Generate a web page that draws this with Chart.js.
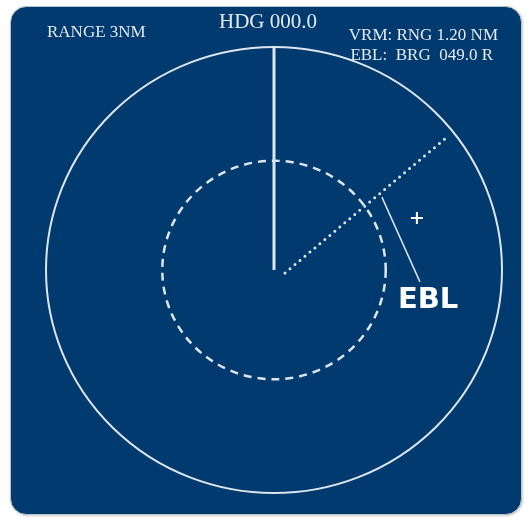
<!DOCTYPE html>
<html>
<head>
<meta charset="utf-8">
<script src="https://cdn.jsdelivr.net/npm/chart.js@4/dist/chart.umd.min.js"></script>
<style>
  html, body { margin: 0; padding: 0; background: #ffffff; }
  #radar { display: block; }
</style>
</head>
<body>
<canvas id="radar" width="530" height="518"></canvas>
<script>
// values, in nautical miles (x east, y north)
const rangeRings = [3.0];          // outer display ring
const vrmRings = [1.47];           // variable range marker (dashed)
const headingLine = [[0, 0], [0, 3.0]];
const eblLine = [[0.145, -0.04], [2.28, 1.79]];
const leaderLine = [[1.42, 0.98], [1.92, -0.16]];
const targets = [[1.88, 0.70]];
const headerLabels = ['RANGE 3NM', 'HDG 000.0', 'VRM: RNG 1.20 NM', 'EBL:  BRG  049.0 R'];
const eblLabel = 'EBL';
const eblLabelPos = [1.63, -0.51];

const PANEL = '#013a6f';
const INK = '#dde5ee';

// own ship sits here on the canvas, and this many px per NM
const ORIGIN = { x: 274, y: 270 };
const SCALE = { x: 76, y: 74.33 };

const toPts = arr => arr.map(p => ({ x: p[0], y: p[1] }));

// fit the hidden axes so own ship lands on ORIGIN
const fitPlugin = {
    id: 'fit',
    afterLayout(chart) {
        const xs = chart.scales.x, ys = chart.scales.y;
        xs.min = (xs.left - ORIGIN.x) / SCALE.x;
        xs.max = (xs.right - ORIGIN.x) / SCALE.x;
        ys.min = (ORIGIN.y - ys.bottom) / SCALE.y;
        ys.max = (ORIGIN.y - ys.top) / SCALE.y;
        xs.configure();
        ys.configure();
    }
};

// Panel background
const panelPlugin = {
    id: 'panel',
    beforeDraw(chart) {
        const ctx = chart.ctx;
        ctx.save();
        ctx.shadowColor = 'rgba(0,0,0,0.25)';
        ctx.shadowBlur = 3;
        ctx.shadowOffsetX = 1;
        ctx.shadowOffsetY = 1;
        ctx.beginPath();
        ctx.roundRect(10.5, 6.5, 511, 508, 16);
        ctx.fillStyle = PANEL;
        ctx.fill();
        ctx.shadowColor = 'transparent';
        ctx.strokeStyle = '#b9c3cd';
        ctx.lineWidth = 1;
        ctx.stroke();
        ctx.restore();
    }
};

// Range rings and VRM drawn through the x/y scales
const ringsPlugin = {
    id: 'rings',
    beforeDatasetsDraw(chart) {
        const ctx = chart.ctx;
        const xs = chart.scales.x, ys = chart.scales.y;
        const cx = xs.getPixelForValue(0), cy = ys.getPixelForValue(0);
        const ring = (r, dash, width) => {
            const rx = Math.abs(xs.getPixelForValue(r) - cx);
            const ry = Math.abs(ys.getPixelForValue(r) - cy);
            ctx.save();
            ctx.beginPath();
            ctx.setLineDash(dash);
            ctx.lineWidth = width;
            ctx.strokeStyle = INK;
            ctx.ellipse(cx, cy, rx, ry, 0, 0, Math.PI * 2);
            ctx.stroke();
            ctx.restore();
        };
        rangeRings.forEach(r => ring(r, [], 2));
        vrmRings.forEach(r => ring(r, [8, 6], 2.5));
    }
};

// Header texts and EBL label
const textPlugin = {
    id: 'texts',
    afterDatasetsDraw(chart) {
        const ctx = chart.ctx;
        const xs = chart.scales.x, ys = chart.scales.y;
        ctx.save();
        ctx.fillStyle = '#e4eaf1';
        ctx.textBaseline = 'alphabetic';
        ctx.font = '17px "Liberation Serif", serif';
        ctx.textAlign = 'left';
        ctx.fillText(headerLabels[0], 47, 37);
        ctx.textAlign = 'right';
        ctx.fillText(headerLabels[2], 498, 40);
        ctx.fillText(headerLabels[3], 493, 60);
        ctx.font = '21px "Liberation Serif", serif';
        ctx.textAlign = 'center';
        ctx.fillText(headerLabels[1], 268, 28);

        ctx.fillStyle = '#ffffff';
        ctx.font = 'bold 29px "DejaVu Sans", sans-serif';
        ctx.textAlign = 'left';
        ctx.fillText(eblLabel, xs.getPixelForValue(eblLabelPos[0]), ys.getPixelForValue(eblLabelPos[1]));
        ctx.restore();
    }
};

new Chart(document.getElementById('radar'), {
    type: 'scatter',
    data: {
        datasets: [
            {
                data: toPts(headingLine),
                showLine: true,
                borderColor: INK,
                borderWidth: 3,
                pointRadius: 0
            },
            {
                data: toPts(eblLine),
                showLine: true,
                borderColor: INK,
                borderWidth: 3,
                borderDash: [0, 6.5],
                borderCapStyle: 'round',
                pointRadius: 0
            },
            {
                data: toPts(leaderLine),
                showLine: true,
                borderColor: INK,
                borderWidth: 1.5,
                pointRadius: 0
            },
            {
                data: toPts(targets),
                showLine: false,
                pointStyle: 'cross',
                pointRadius: 6,
                borderColor: '#ffffff',
                borderWidth: 2
            }
        ]
    },
    options: {
        responsive: false,
        animation: false,
        events: [],
        layout: { padding: 0 },
        plugins: {
            legend: { display: false },
            tooltip: { enabled: false }
        },
        scales: {
            x: { type: 'linear', min: -3.5, max: 3.5, display: false },
            y: { type: 'linear', min: -3.5, max: 3.5, display: false }
        }
    },
    plugins: [fitPlugin, panelPlugin, ringsPlugin, textPlugin]
});
</script>
</body>
</html>
